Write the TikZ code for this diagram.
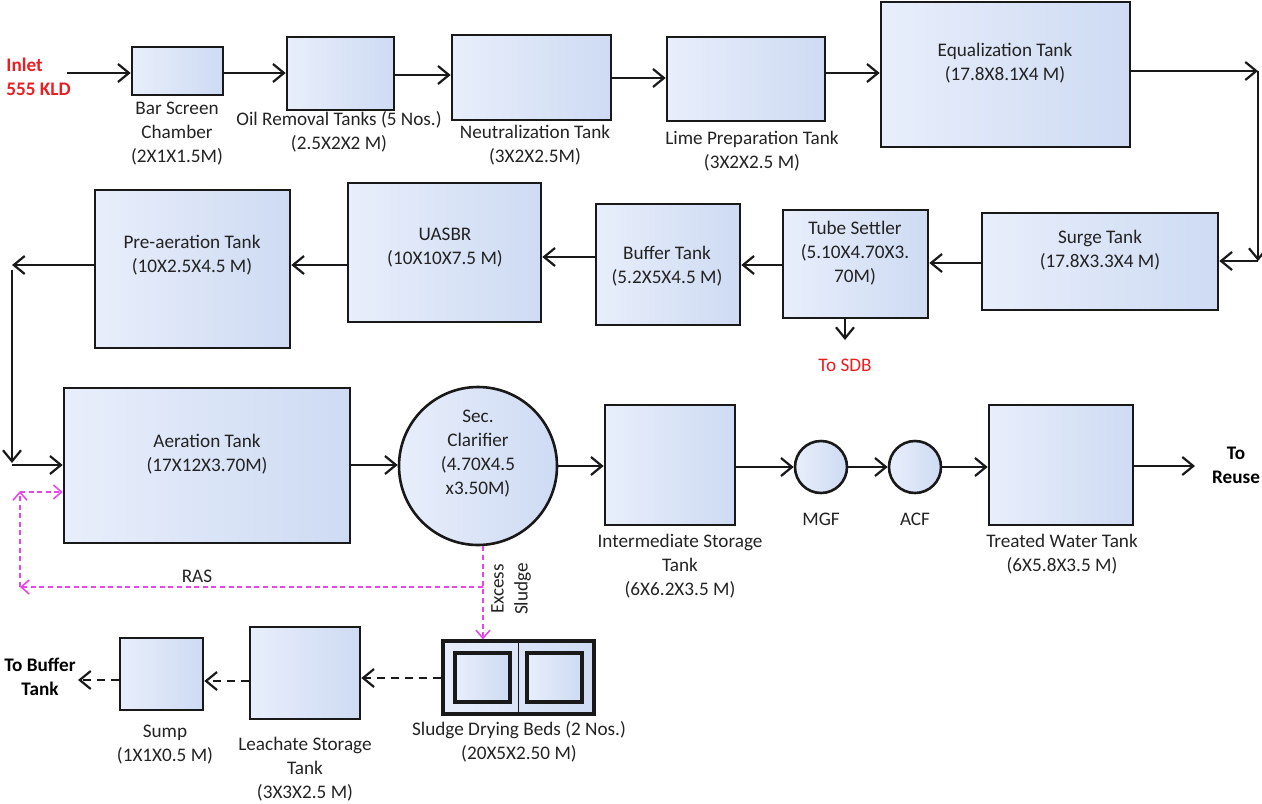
\documentclass[tikz,border=0pt]{standalone}
\usepackage{fontspec}
\setmainfont{Carlito}
\usetikzlibrary{arrows.meta,fit}
\definecolor{tankL}{RGB}{232,238,251}
\definecolor{tankR}{RGB}{206,219,243}
\definecolor{txt}{RGB}{35,35,35}
\definecolor{redt}{RGB}{235,30,35}
\definecolor{pinkd}{RGB}{232,70,232}
\tikzset{
  tank/.style={draw=black!90, line width=1.3pt, left color=tankL, right color=tankR, inner sep=0pt},
  tankc/.style={tank, circle},
  lbl/.style={font=\fontsize{9.6}{12}\selectfont, text=txt, align=center, inner sep=0pt},
  blbl/.style={lbl, font=\fontsize{9.6}{12}\selectfont\bfseries, text=black},
  rlbl/.style={lbl, text=redt},
  arr/.style={-{Straight Barb[length=5.5pt,width=9pt,line width=1.1pt]}, line width=1.1pt, black!90},
  darr/.style={arr, dash pattern=on 4pt off 3pt},
  parr/.style={-{Straight Barb[length=4pt,width=7pt,line width=0.8pt]}, line width=0.8pt, pinkd, dash pattern=on 2.5pt off 1.8pt}
}
\begin{document}
\begin{tikzpicture}[x=0.5pt,y=-0.5pt]
\useasboundingbox (0,0) rectangle (1262,803);

% ---- row 1 ----
\node[tank, fit={(132,47) (223,95)}] (bar) {};
\node[tank, fit={(287,37) (394,110)}] (oil) {};
\node[tank, fit={(452,35) (611,120)}] (neut) {};
\node[tank, fit={(667,37) (825,121)}] (lime) {};
\node[tank, fit={(881,2) (1130,147)}] (equal) {};

\node[rlbl, font=\fontsize{9.6}{12}\selectfont\bfseries, align=left, anchor=west] (inlet) at (6,77) {Inlet\\555 KLD};
\node[lbl] (barT) at (177,134) {Bar Screen\\Chamber\\(2X1X1.5M)};
\node[lbl] (oilT) at (339,132) {Oil Removal Tanks (5 Nos.)\\(2.5X2X2 M)};
\node[lbl] (neutT) at (535,145) {Neutralization Tank\\(3X2X2.5M)};
\node[lbl] (limeT) at (752,151) {Lime Preparation Tank\\(3X2X2.5 M)};
\node[lbl] (equalT) at (1005,63) {Equalization Tank\\(17.8X8.1X4 M)};

\coordinate (inA) at (67,73);
\coordinate (c1) at (1258,71);
\coordinate (c2) at (1258,261);
\draw[arr] (inA) -- (inA -| bar.west);
\draw[arr] (bar.east |- 0,73) -- (oil.west |- 0,73);
\draw[arr] (oil.east |- 0,75) -- (neut.west |- 0,75);
\draw[arr] (neut.east |- 0,78) -- (lime.west |- 0,78);
\draw[arr] (lime.east |- 0,73) -- (equal.west |- 0,73);
\draw[arr] (equal.east |- c1) -- (c1);
\draw[arr] (c1) -- (c2);

% ---- row 2 ----
\node[tank, fit={(982,213) (1218,310)}] (surge) {};
\node[tank, fit={(783,210) (928,318)}] (tube) {};
\node[tank, fit={(596,204) (740,325)}] (buffer) {};
\node[tank, fit={(348,183) (541,322)}] (uasbr) {};
\node[tank, fit={(95,190) (290,348)}] (preaer) {};

\node[lbl] (surgeT) at (1100,250) {Surge Tank\\(17.8X3.3X4 M)};
\node[lbl] (tubeT) at (855,253) {Tube Settler\\(5.10X4.70X3.\\70M)};
\node[rlbl] (sdb) at (845,365) {To SDB};
\node[lbl] (bufferT) at (667,266) {Buffer Tank\\(5.2X5X4.5 M)};
\node[lbl] (uasbrT) at (445,248) {UASBR\\(10X10X7.5 M)};
\node[lbl] (preaerT) at (192,255) {Pre-aeration Tank\\(10X2.5X4.5 M)};

\coordinate (sdbA) at (845,318);
\coordinate (sdbB) at (845,340);
\coordinate (c3) at (12,265);
\coordinate (c4) at (12,463);
\coordinate (c3b) at (12,270);
\draw[arr] (c2) -- (c2 -| surge.east);
\draw[arr] (surge.west |- 0,263) -- (tube.east |- 0,263);
\draw[arr] (tube.west |- 0,265) -- (buffer.east |- 0,265);
\draw[arr] (sdbA) -- (sdbB);
\draw[arr] (buffer.west |- 0,257) -- (uasbr.east |- 0,257);
\draw[arr] (uasbr.west |- 0,265) -- (preaer.east |- 0,265);
\draw[arr] (preaer.west |- c3) -- (c3);
\draw[arr] (c3b) -- (c4);

% ---- row 3 ----
\node[tank, fit={(64,388) (350,543)}] (aer) {};
\node[tankc, minimum size=79pt] (clar) at (478,466) {};
\node[tank, fit={(605,405) (735,525)}] (inter) {};
\node[tankc, minimum size=26pt] (mgf) at (821,467) {};
\node[tankc, minimum size=26pt] (acf) at (915,467) {};
\node[tank, fit={(989,405) (1133,525)}] (treated) {};

\node[lbl] (aerT) at (207,454) {Aeration Tank\\(17X12X3.70M)};
\node[lbl] (clarT) at (478,454) {Sec.\\Clarifier\\(4.70X4.5\\x3.50M)};
\node[lbl] (interT) at (680,566) {Intermediate Storage\\Tank\\(6X6.2X3.5 M)};
\node[lbl] (mgfT) at (821,519) {MGF};
\node[lbl] (acfT) at (915,519) {ACF};
\node[lbl] (treatedT) at (1062,554) {Treated Water Tank\\(6X5.8X3.5 M)};
\node[blbl] (reuse) at (1236,465) {To\\Reuse};

\coordinate (c5) at (12,465);
\coordinate (reuseA) at (1195,466);
\draw[arr] (c5) -- (c5 -| aer.west);
\draw[arr] (aer.east |- 0,465) -- (clar.west |- 0,465);
\draw[arr] (clar.east |- 0,466) -- (inter.west |- 0,466);
\draw[arr] (inter.east |- 0,467) -- (mgf.west);
\draw[arr] (mgf.east) -- (acf.west);
\draw[arr] (acf.east) -- (acf.east -| treated.west);
\draw[arr] (treated.east |- reuseA) -- (reuseA);

% ---- pink recirculation ----
\coordinate (p1) at (483,587);
\coordinate (p2) at (20,587);
\coordinate (p3) at (20,491);
\coordinate (p4) at (20,492);
\node[lbl, rotate=90] (excess) at (511,589) {Excess\\Sludge};
\node[lbl] (ras) at (197,576) {RAS};

% ---- bottom row ----
\node[tank, line width=1.6pt, fit={(443,641) (594,714)}] (sdbeds) {};
\node[tank, line width=1.6pt, fit={(455,653) (510,702)}] (bed1) {};
\node[tank, line width=1.6pt, fit={(527,653) (582,702)}] (bed2) {};
\draw[line width=0.6pt, black!90] (sdbeds.north) -- (sdbeds.south);
\node[tank, fit={(250,627) (360,719)}] (leach) {};
\node[tank, fit={(120,638) (203,710)}] (sump) {};

\draw[parr] (clar.south -| p1) -- (p1 |- sdbeds.north);
\draw[parr] (p1) -- (p2);
\draw[parr] (p2) -- (p3);
\draw[parr] (p4) -- (p4 -| aer.west);

\node[lbl] (sdbedsT) at (519,742) {Sludge Drying Beds (2 Nos.)\\(20X5X2.50 M)};
\node[lbl] (leachT) at (305,769) {Leachate Storage\\Tank\\(3X3X2.5 M)};
\node[lbl] (sumpT) at (165,745) {Sump\\(1X1X0.5 M)};
\node[blbl] (tobuf) at (40,677) {To Buffer\\Tank};

\coordinate (tbA) at (78,680);
\draw[darr] (sdbeds.west |- 0,678) -- (leach.east |- 0,678);
\draw[darr] (leach.west |- 0,681) -- (sump.east |- 0,681);
\draw[darr] (sump.west |- tbA) -- (tbA);
\end{tikzpicture}
\end{document}
